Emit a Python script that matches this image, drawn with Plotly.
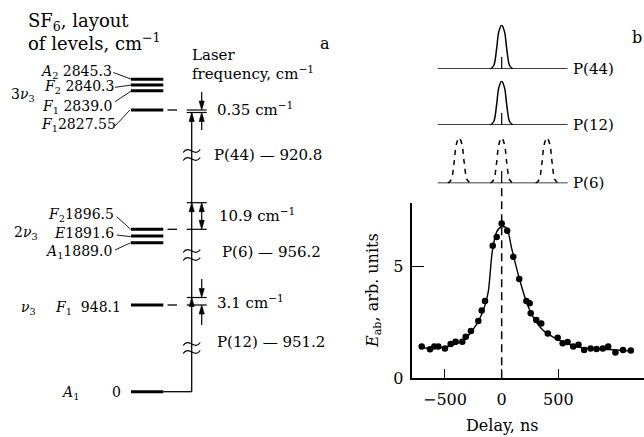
import plotly.graph_objects as go

# ---------------- data: panel b ----------------
delay_ns = [-705, -632, -594, -559, -500, -450, -406, -347, -317, -271, -206, -176, -147,
            -79, -44, 0, 49, 102, 155, 218, 247, 256, 305, 349, 407, 494, 538, 581, 631,
            677, 727, 785, 837, 892, 939, 1003, 1070, 1139]
e_ab = [1.42, 1.30, 1.42, 1.42, 1.34, 1.54, 1.64, 1.64, 1.86, 2.12, 2.57, 3.04, 3.46,
        5.94, 6.33, 6.94, 6.61, 5.45, 4.45, 3.46, 3.36, 2.91, 2.61, 2.46, 2.01, 1.82, 1.57,
        1.63, 1.42, 1.50, 1.27, 1.34, 1.31, 1.33, 1.42, 1.16, 1.27, 1.24]
fit_x = [-720, -600, -500, -450, -400, -330, -265, -200, -147, -118, -83, -44, 0, 44, 88,
         155, 218, 276, 363, 450, 567, 712, 858, 1003, 1148]
fit_y = [1.35, 1.37, 1.40, 1.45, 1.55, 1.72, 2.10, 2.60, 3.28, 3.88, 5.67, 6.56, 6.79,
         6.72, 5.82, 4.48, 3.43, 2.76, 2.16, 1.86, 1.57, 1.37, 1.31, 1.27, 1.22]
x_ticks = [-500, 0, 500]
y_ticks = [0, 5]

# pulse shape (relative delay, ns / relative amplitude)
pulse_dt = [-100, -70, -45, -25, 0, 25, 45, 70, 100]
pulse_amp = [0.0, 0.08, 0.45, 0.85, 1.0, 0.85, 0.45, 0.08, 0.0]
pulse_names = ["P(44)", "P(12)", "P(6)"]
pulse_centers = [[0], [0], [-375, 0, 400]]
baseline_ns = [-564, 582]

# ---------------- data: panel a ----------------
title_lines = ["SF<sub>6</sub>, layout", "of levels, cm<sup>−1</sup>"]
level_labels = ["<i>A</i><sub>2</sub> 2845.3", "<i>F</i><sub>2</sub> 2840.3",
                "<i>F</i><sub>1</sub> 2839.0", "<i>F</i><sub>1</sub>2827.55",
                "<i>F</i><sub>2</sub>1896.5", "<i>E</i>1891.6", "<i>A</i><sub>1</sub>1889.0",
                "<i>F</i><sub>1</sub>\u00a0 948.1", "0"]
level_energy = [2845.3, 2840.3, 2839.0, 2827.55, 1896.5, 1891.6, 1889.0, 948.1, 0.0]
band_labels = ["3<i>ν</i><sub>3</sub>", "2<i>ν</i><sub>3</sub>", "<i>ν</i><sub>3</sub>",
               "<i>A</i><sub>1</sub>"]
laser_lines = ["P(44) — 920.8", "P(6) — 956.2", "P(12) — 951.2"]
detunings = ["0.35 cm<sup>−1</sup>", "10.9 cm<sup>−1</sup>", "3.1 cm<sup>−1</sup>"]

# ---------------- layout helpers (pixel geometry) ----------------
W, H = 644, 437
FONT = "DejaVu Serif"


def X(px):
    return px / W


def Y(py):
    return 1 - py / H


shapes = []
annotations = []


def seg(x0, y0, x1, y1, w=1.2):
    shapes.append(dict(type="line", xref="paper", yref="paper", x0=X(x0), y0=Y(y0),
                       x1=X(x1), y1=Y(y1), line=dict(color="black", width=w)))


def head(x, ytip, up=True, L=9, hw=2.6):
    yb = ytip + L if up else ytip - L
    p = "M {:.5f},{:.5f} L {:.5f},{:.5f} L {:.5f},{:.5f} Z".format(
        X(x), Y(ytip), X(x - hw), Y(yb), X(x + hw), Y(yb))
    shapes.append(dict(type="path", xref="paper", yref="paper", path=p,
                       fillcolor="black", line=dict(color="black", width=0.6)))


def tilde(x, y):
    for dy in (-4, 4):
        yy = y + dy
        p = "M {:.5f},{:.5f} C {:.5f},{:.5f} {:.5f},{:.5f} {:.5f},{:.5f}".format(
            X(x - 8.5), Y(yy + 1.5), X(x - 3), Y(yy - 7), X(x + 3), Y(yy + 7),
            X(x + 8.5), Y(yy - 1.5))
        shapes.append(dict(type="path", xref="paper", yref="paper", path=p,
                           line=dict(color="black", width=1.2)))


def txt(s, x, y, xanchor="left", size=15, yanchor="middle"):
    annotations.append(dict(text=s, x=X(x), y=Y(y), xref="paper", yref="paper",
                            xanchor=xanchor, yanchor=yanchor, showarrow=False,
                            font=dict(family=FONT, size=size, color="black")))


# ---------------- panel a geometry ----------------
LX0, LX1 = 131.0, 163.3
LASER_X, MARK_X = 191.7, 201.7
level_y = [79.3, 85.0, 90.7, 110.0, 229.3, 236.0, 242.7, 305.0, 391.7]
label_pos = [(113, 71.7), (115, 87), (113, 107), (117, 125), (115, 215), (115, 233.3),
             (113, 251.7), (121.7, 308), (121.7, 391.7)]
pointer = [((113.3, 72.5), (131.7, 79.3)), ((115, 87.3), (131.7, 85)),
           ((115, 101.7), (131.7, 90.7)), ((115, 126), (130, 110)),
           ((116.7, 216.7), (130.7, 229.3)), ((116.7, 235), (130.7, 236.7)),
           ((115, 250), (130.7, 242.7))]
band_pos = [(9, 95), (12, 233.3), (19, 308), (59, 392.7)]

for i, (lab, yy) in enumerate(zip(level_labels, level_y)):
    seg(LX0, yy, LX1, yy, 3)
    lx, ly = label_pos[i]
    txt(lab, lx + 1, ly, "right", 14)
for (a, b) in pointer:
    seg(a[0], a[1], b[0], b[1], 0.9)
for lab, (bx, by) in zip(band_labels, band_pos):
    txt(lab, bx, by, "left", 14)

# laser line and ground connection
seg(LASER_X, 391.7, LASER_X, 112.5, 1.3)
seg(LX1, 391.7, LASER_X, 391.7, 1.3)

# detuning markers: (upper tick y, lower tick y)
marks = [(110.0, 112.5), (202.7, 229.3), (297.5, 305.0)]
dash_y = [110.0, 229.3, 305.0]
for (t1, t2), dy in zip(marks, dash_y):
    seg(167.5, dy, 177, dy, 1.3)
    seg(186.7, t1, 206.7, t1, 1.2)
    seg(186.7, t2, 206.7, t2, 1.2)
# arrowheads on the laser line (pointing up)
head(LASER_X, 112.5, True)
head(LASER_X, 202.7, True)
head(LASER_X, 297.5, True)
# 0.35 marker: outside arrows
seg(MARK_X, 92, MARK_X, 108, 1.2)
head(MARK_X, 110, False)
seg(MARK_X, 130, MARK_X, 115, 1.2)
head(MARK_X, 112.5, True)
# 10.9 marker: double arrow
seg(MARK_X, 205, MARK_X, 227, 1.2)
head(MARK_X, 202.7, True)
head(MARK_X, 229.3, False)
# 3.1 marker: outside arrows
seg(MARK_X, 279, MARK_X, 295, 1.2)
head(MARK_X, 297.5, False)
seg(MARK_X, 325, MARK_X, 307, 1.2)
head(MARK_X, 305, True)

for yy in (155, 255, 348):
    tilde(LASER_X, yy)

txt(title_lines[0], 26, 22, size=18)
txt(title_lines[1], 26, 42, size=18)
txt("Laser", 190, 55)
txt("frequency, cm<sup>−1</sup>", 190, 73)
txt("a", 325, 43, "center", 16)
det_pos = [(215, 109), (217, 215), (215, 301.7)]
las_pos = [(212, 155), (220, 251.7), (215, 341.7)]
for s, (x, y) in zip(detunings, det_pos):
    txt(s, x, y)
for s, (x, y) in zip(laser_lines, las_pos):
    txt(s, x, y)

# ---------------- panel b ----------------
fig = go.Figure()

fig.add_trace(go.Scatter(x=fit_x, y=fit_y, mode="lines", line=dict(color="black", width=1.4,
                                                                    shape="spline", smoothing=0.8),
                         xaxis="x", yaxis="y", hoverinfo="skip"))
fig.add_trace(go.Scatter(x=delay_ns, y=e_ab, mode="markers",
                         marker=dict(color="black", size=6.5), xaxis="x", yaxis="y"))

pulse_axes = ["y2", "y3", "y4"]
for k, (name, centers) in enumerate(zip(pulse_names, pulse_centers)):
    ya = pulse_axes[k]
    dashed = len(centers) > 1
    fig.add_trace(go.Scatter(x=baseline_ns, y=[0, 0], mode="lines",
                             line=dict(color="black", width=1.4), xaxis="x", yaxis=ya))
    for c in centers:
        fig.add_trace(go.Scatter(x=[c + d for d in pulse_dt], y=pulse_amp, mode="lines",
                                 line=dict(color="black", width=1.5, shape="spline",
                                           dash="5px,5px" if dashed else "solid"),
                                 xaxis="x", yaxis=ya))
    fig.add_trace(go.Scatter(x=[0, 0], y=[0, 0.27], mode="lines",
                             line=dict(color="black", width=1.2), xaxis="x", yaxis=ya))
    annotations.append(dict(text=name, x=baseline_ns[1] + 30, y=0, xref="x",
                            yref=ya, xanchor="left", yanchor="middle", showarrow=False,
                            font=dict(family=FONT, size=15, color="black")))

# dashed zero-delay line (spans above the plot area)
shapes.append(dict(type="line", xref="x", yref="paper", x0=0, x1=0, y0=Y(378.3), y1=Y(186),
                   line=dict(color="black", width=1.5, dash="8px,5px")))

txt("b", 637, 37, "center", 16)
txt("Delay, ns", 502, 437, "center", 16, yanchor="bottom")
annotations.append(dict(text="<i>E</i><sub>ab</sub>, arb. units", x=X(373), y=Y(290),
                        xref="paper", yref="paper", xanchor="center", yanchor="middle",
                        textangle=-90, showarrow=False,
                        font=dict(family=FONT, size=16, color="black")))

axis_font = dict(family=FONT, size=16, color="black")
fig.update_layout(
    width=W, height=H, autosize=False,
    margin=dict(l=0, r=0, t=0, b=0, pad=0),
    paper_bgcolor="white", plot_bgcolor="white",
    showlegend=False,
    xaxis=dict(domain=[X(412.3), 1.0], range=[-788, 1255], anchor="y", automargin=False,
               tickvals=x_ticks, ticks="inside", ticklen=10, tickwidth=1.2,
               tickcolor="black", showline=True, linecolor="black", linewidth=1.5,
               showgrid=False, zeroline=False, tickfont=axis_font, ticklabelstandoff=6),
    yaxis=dict(domain=[Y(378.3), Y(203.3)], range=[0, 7.84], anchor="x", automargin=False,
               tickvals=y_ticks, ticks="inside", ticklen=12, tickwidth=1.2,
               tickcolor="black", showline=True, linecolor="black", linewidth=1.5,
               showgrid=False, zeroline=False, tickfont=axis_font, ticklabelstandoff=4),
    yaxis2=dict(domain=[Y(69), Y(25)], range=[0, 1], anchor="x", visible=False,
                automargin=False),
    yaxis3=dict(domain=[Y(125), Y(81)], range=[0, 1], anchor="x", visible=False,
                automargin=False),
    yaxis4=dict(domain=[Y(183.3), Y(137.7)], range=[0, 1], anchor="x", visible=False,
                automargin=False),
    shapes=shapes,
    annotations=annotations,
)

fig.write_html("out.html")
